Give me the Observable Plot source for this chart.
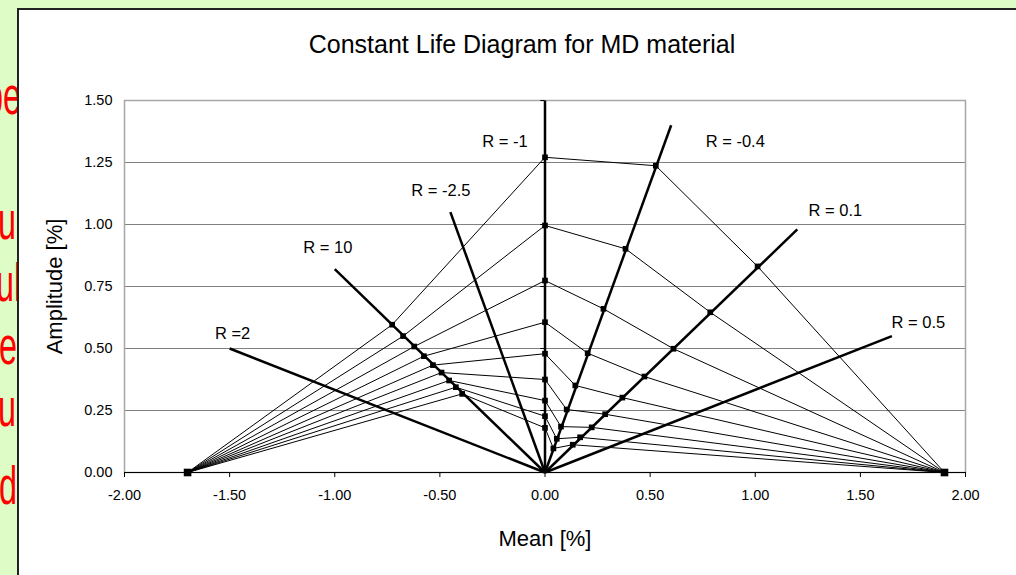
<!DOCTYPE html>
<html>
<head>
<meta charset="utf-8">
<script src="https://cdn.jsdelivr.net/npm/d3@7"></script>
<script src="https://cdn.jsdelivr.net/npm/@observablehq/plot@0.6"></script>
<style>
  html, body { margin: 0; padding: 0; }
  body { width: 1016px; height: 575px; overflow: hidden; position: relative; background: #ddfcc6; font-family: "Liberation Sans", Arial, sans-serif; }
  .frag { position: absolute; color: #ff0000; font-size: 54px; line-height: 1; white-space: nowrap; transform: scaleX(0.6); transform-origin: 0 0; }
  #panel { position: absolute; left: 17px; top: 8px; right: 0; bottom: 0; background: #fff; border-left: 2px solid #222; border-top: 2px solid #222; }
  #title { position: absolute; left: 0; width: 1044px; top: 30px; text-align: center; font-size: 25px; line-height: 28px; color: #000; }
  #chart { position: absolute; left: 0; top: 0; }
  #chart svg { background: transparent; }
</style>
</head>
<body>
<div class="frag" style="left:-15px; top:68px;">pe</div>
<div class="frag" style="left:-2px; top:193px;">u</div>
<div class="frag" style="left:-4px; top:255px;">ul</div>
<div class="frag" style="left:-1px; top:318px;">e</div>
<div class="frag" style="left:-2px; top:380px;">u</div>
<div class="frag" style="left:-1px; top:458px;">de</div>
<div id="panel"></div>
<div id="title">Constant Life Diagram for MD material</div>
<div id="chart"></div>
<script>
// ---- data ----
const xTicks = [-2, -1.5, -1, -0.5, 0, 0.5, 1, 1.5, 2];
const yTicks = [0, 0.25, 0.5, 0.75, 1.0, 1.25, 1.5];

// static strength points (amplitude 0)
const compressiveMean = -1.7;
const tensileMean = 1.9;

// 9 constant-life curves, vertices on rays R=10, R=-1, R=-0.4, R=0.1
const meanR10 = [-0.727, -0.675, -0.622, -0.576, -0.533, -0.492, -0.456, -0.424, -0.394];
const ampR10  = [0.596, 0.550, 0.508, 0.469, 0.433, 0.403, 0.371, 0.344, 0.317];
const ampRm1  = [1.271, 0.996, 0.774, 0.606, 0.479, 0.375, 0.290, 0.227, 0.180];
const meanRm04 = [0.527, 0.383, 0.278, 0.203, 0.144, 0.103, 0.076, 0.056, 0.040];
const ampRm04  = [1.237, 0.902, 0.660, 0.481, 0.351, 0.254, 0.185, 0.136, 0.097];
const meanR01 = [1.011, 0.786, 0.611, 0.473, 0.368, 0.286, 0.222, 0.167, 0.132];
const ampR01  = [0.831, 0.646, 0.499, 0.387, 0.302, 0.235, 0.182, 0.142, 0.112];

// R-ratio rays from the origin
const rayNames   = ["R = -1", "R = -0.4", "R = -2.5", "R = 0.1", "R = 10", "R =2", "R = 0.5"];
const rayEndMean = [0, 0.6, -0.45, 1.2, -1.0, -1.5, 1.65];
const rayEndAmp  = [1.5, 1.4, 1.05, 0.98, 0.82, 0.5, 0.55];
const labelMean  = [-0.19, 0.905, -0.495, 1.381, -1.033, -1.486, 1.776];
const labelAmp   = [1.335, 1.335, 1.137, 1.056, 0.907, 0.560, 0.605];

// ---- build tables ----
const rays = rayNames.map((n, i) => ({name: n, mean: rayEndMean[i], amp: rayEndAmp[i], lx: labelMean[i], ly: labelAmp[i]}));
const curvePts = [];
const vertexPts = [];
meanR10.forEach((_, k) => {
  const pts = [
    {mean: compressiveMean, amp: 0},
    {mean: meanR10[k], amp: ampR10[k]},
    {mean: 0, amp: ampRm1[k]},
    {mean: meanRm04[k], amp: ampRm04[k]},
    {mean: meanR01[k], amp: ampR01[k]},
    {mean: tensileMean, amp: 0}
  ];
  pts.forEach((p, j) => {
    curvePts.push({...p, curve: k});
    if (j > 0 && j < pts.length - 1) vertexPts.push(p);
  });
});
const endPts = [{mean: compressiveMean, amp: 0}, {mean: tensileMean, amp: 0}];
const fmt = d => d.toFixed(2);

const chart = Plot.plot({
  width: 1016,
  height: 575,
  marginLeft: 124,
  marginRight: 51,
  marginTop: 100,
  marginBottom: 103,
  style: {background: "transparent", fontFamily: "Liberation Sans, Arial, sans-serif", fontSize: "14.5px", color: "#000"},
  x: {domain: [-2, 2]},
  y: {domain: [0, 1.5]},
  marks: [
    Plot.gridY(yTicks.filter(d => d > 0), {stroke: "#808080", strokeOpacity: 1, strokeWidth: 1}),
    Plot.frame({stroke: "#a6a6a6", strokeWidth: 1.5}),
    Plot.ruleY([0], {stroke: "#000", strokeWidth: 1}),
    Plot.axisX(xTicks, {tickSize: 5, tickPadding: 12, tickFormat: fmt, fontSize: 14.5, label: "Mean [%]", labelAnchor: "center", labelOffset: 73, labelArrow: "none"}),
    Plot.axisY(yTicks, {tickSize: 0, tickPadding: 12, tickFormat: fmt, fontSize: 14.5, label: "Amplitude [%]", labelAnchor: "center", labelOffset: 78, labelArrow: "none"}),
    Plot.ruleY(yTicks, {y: d => d, x1: 0, x2: -0.02, stroke: "#000"}),
    Plot.line(curvePts, {x: "mean", y: "amp", z: "curve", stroke: "#000", strokeWidth: 1}),
    Plot.link(rays, {x1: 0, y1: 0, x2: "mean", y2: "amp", stroke: "#000", strokeWidth: 2.5}),
    Plot.dot(vertexPts, {x: "mean", y: "amp", symbol: "square", r: 3.2, fill: "#000", stroke: "none"}),
    Plot.dot(endPts, {x: "mean", y: "amp", symbol: "square", r: 4.3, fill: "#000", stroke: "none"}),
    Plot.text(rays, {x: "lx", y: "ly", text: "name", fontSize: 16.5, fill: "#000"})
  ]
});
document.getElementById("chart").appendChild(chart);
// larger axis titles
chart.querySelectorAll("text").forEach(t => {
  if (t.textContent === "Mean [%]" || t.textContent === "Amplitude [%]") t.setAttribute("font-size", 22);
});
</script>
</body>
</html>
